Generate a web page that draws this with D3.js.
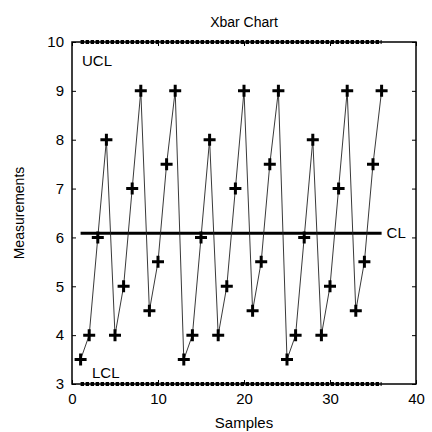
<!DOCTYPE html>
<html>
<head>
<meta charset="utf-8">
<script src="https://cdn.jsdelivr.net/npm/d3@7"></script>
<style>
body { margin: 0; background: #fff; }
svg text { font-family: "Liberation Sans", Arial, sans-serif; fill: #000; }
</style>
</head>
<body>
<div class="chart"></div>
<script>
// Data ---------------------------------------------------------------------
const samples = d3.range(1, 37);
const measurements = [3.5, 4, 6, 8, 4, 5, 7, 9, 4.5, 5.5, 7.5, 9,
                      3.5, 4, 6, 8, 4, 5, 7, 9, 4.5, 5.5, 7.5, 9,
                      3.5, 4, 6, 8, 4, 5, 7, 9, 4.5, 5.5, 7.5, 9];
const ucl = 10;
const lcl = 3;
const cl = d3.mean(measurements);
const xTicks = [0, 10, 20, 30, 40];
const yTicks = [3, 4, 5, 6, 7, 8, 9, 10];

const data = samples.map((s, i) => ({ x: s, y: measurements[i] }));

// SVG Dimensions ---------------------------------------------------------------------
const width = 432;
const height = 432;
const margin = { top: 42, right: 16, bottom: 48, left: 72 };

const svg = d3.select(".chart")
  .append("svg")
  .attr("width", width)
  .attr("height", height);

// Scales ---------------------------------------------------------------------
const xScale = d3.scaleLinear()
  .domain([0, 40])
  .range([margin.left, width - margin.right]);

const yScale = d3.scaleLinear()
  .domain([3, 10])
  .range([height - margin.bottom, margin.top]);

// Axes (box with inward ticks) ---------------------------------------------------------------------
const axisStyle = g => {
  g.select(".domain").remove();
  g.selectAll(".tick line").attr("stroke", "#000");
  g.selectAll(".tick text").attr("font-size", 15).attr("fill", "#000")
    .attr("font-family", "Liberation Sans, Arial, sans-serif");
};

svg.append("g")
  .attr("transform", `translate(0, ${height - margin.bottom})`)
  .call(d3.axisBottom(xScale).tickValues(xTicks).tickFormat(d3.format("d")).tickSize(-4).tickPadding(9))
  .call(axisStyle);

svg.append("g")
  .attr("transform", `translate(${margin.left},0)`)
  .call(d3.axisLeft(yScale).tickValues(yTicks).tickFormat(d3.format("d")).tickSize(-4).tickPadding(8))
  .call(axisStyle);

svg.append("g")
  .attr("transform", `translate(${width - margin.right},0)`)
  .call(d3.axisRight(yScale).tickValues(yTicks).tickSize(-4).tickFormat(""))
  .call(axisStyle);

svg.append("g")
  .attr("transform", `translate(0, ${margin.top})`)
  .call(d3.axisTop(xScale).tickValues(xTicks).tickSize(-4).tickFormat(""))
  .call(axisStyle);

svg.append("rect")
  .attr("x", margin.left)
  .attr("y", margin.top)
  .attr("width", width - margin.left - margin.right)
  .attr("height", height - margin.top - margin.bottom)
  .attr("fill", "none")
  .attr("stroke", "#000")
  .attr("stroke-width", 1.5);

// Control limits ---------------------------------------------------------------------
const xMin = d3.min(samples), xMax = d3.max(samples);

[ucl, lcl].forEach(v => {
  svg.append("line")
    .attr("x1", xScale(xMin))
    .attr("x2", xScale(xMax))
    .attr("y1", yScale(v))
    .attr("y2", yScale(v))
    .attr("stroke", "#000")
    .attr("stroke-width", 4)
    .attr("stroke-linecap", "butt")
    .attr("stroke-dasharray", "3.5,1.5");
});

svg.append("line")
  .attr("x1", xScale(xMin))
  .attr("x2", xScale(xMax))
  .attr("y1", yScale(cl))
  .attr("y2", yScale(cl))
  .attr("stroke", "#000")
  .attr("stroke-width", 3);

// Data line and markers ---------------------------------------------------------------------
const line = d3.line()
  .x(d => xScale(d.x))
  .y(d => yScale(d.y));

svg.append("path")
  .datum(data)
  .attr("d", line)
  .attr("fill", "none")
  .attr("stroke", "#222")
  .attr("stroke-width", 0.9);

svg.append("g")
  .selectAll("path")
  .data(data)
  .join("path")
  .attr("d", d => {
    const x = xScale(d.x), y = yScale(d.y), r = 6;
    return `M${x - r},${y}H${x + r}M${x},${y - r}V${y + r}`;
  })
  .attr("stroke", "#000")
  .attr("stroke-width", 3);

// Labels ---------------------------------------------------------------------
svg.append("text")
  .attr("x", 82)
  .attr("y", yScale(ucl) + 24)
  .attr("font-size", 15)
  .text("UCL");

svg.append("text")
  .attr("x", 92)
  .attr("y", yScale(lcl) - 6)
  .attr("font-size", 15)
  .text("LCL");

svg.append("text")
  .attr("x", xScale(xMax) + 5)
  .attr("y", yScale(cl) + 5)
  .attr("font-size", 15)
  .text("CL");

svg.append("text")
  .attr("x", (margin.left + width - margin.right) / 2)
  .attr("y", 27)
  .attr("text-anchor", "middle")
  .attr("font-size", 14)
  .text("Xbar Chart");

svg.append("text")
  .attr("x", (margin.left + width - margin.right) / 2)
  .attr("y", 428)
  .attr("text-anchor", "middle")
  .attr("font-size", 15)
  .text("Samples");

svg.append("text")
  .attr("transform", `translate(24, ${(margin.top + height - margin.bottom) / 2}) rotate(-90)`)
  .attr("text-anchor", "middle")
  .attr("font-size", 14)
  .text("Measurements");
</script>
</body>
</html>
